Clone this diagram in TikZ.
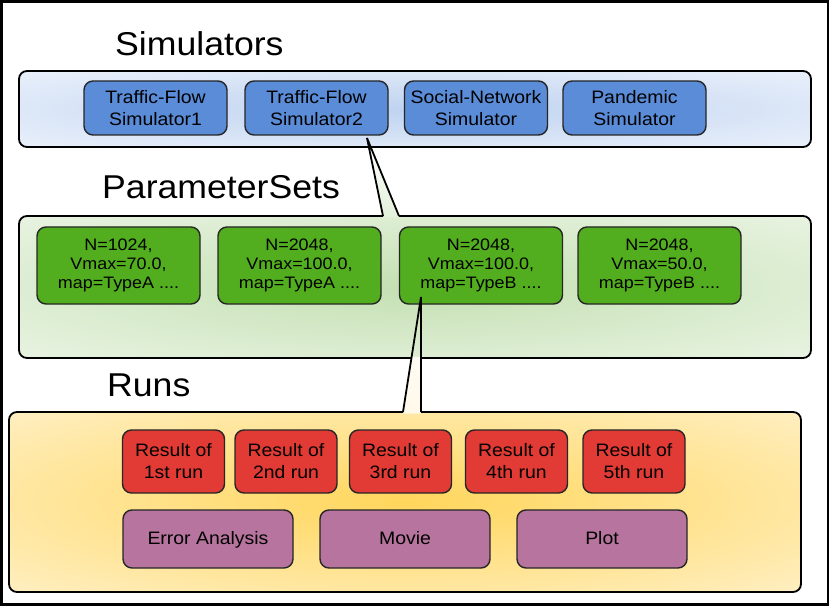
\documentclass[tikz,border=0pt]{standalone}
\usepackage{fontspec}
\setmainfont{Liberation Sans}[FakeStretch=1.08]
\usetikzlibrary{calc}
\definecolor{simblue}{RGB}{90,140,216}
\definecolor{pargreen}{RGB}{82,174,31}
\definecolor{resred}{RGB}{226,59,53}
\definecolor{outpurple}{RGB}{182,116,158}
\definecolor{simin}{RGB}{190,210,240}
\definecolor{simout}{RGB}{252,253,255}
\definecolor{parin}{RGB}{196,224,178}
\definecolor{parout}{RGB}{247,251,245}
\definecolor{runin}{RGB}{255,214,92}
\definecolor{runout}{RGB}{255,249,234}
\pgfdeclareradialshading{simshade}{\pgfpointorigin}{color(0bp)=(simin); color(50bp)=(simout); color(75bp)=(simout)}
\pgfdeclareradialshading{parshade}{\pgfpointorigin}{color(0bp)=(parin); color(50bp)=(parout); color(75bp)=(parout)}
\pgfdeclareradialshading{runshade}{\pgfpointorigin}{color(0bp)=(runin); color(50bp)=(runout); color(75bp)=(runout)}
\begin{document}
\begin{tikzpicture}[x=1pt,y=-1pt,
  cont/.style={line width=1.8pt, line join=miter},
  inbox/.style={draw=black!85, line width=1.4pt, rounded corners=9pt, inner sep=0pt, align=center, text=black},
  simbox/.style={inbox, fill=simblue, minimum width=143pt, minimum height=54pt, font=\fontsize{18}{22}\selectfont},
  parbox/.style={inbox, fill=pargreen, minimum width=163pt, minimum height=77pt, font=\fontsize{16.6}{19.4}\selectfont},
  resbox/.style={inbox, fill=resred, minimum width=102pt, minimum height=63pt, font=\fontsize{18}{22}\selectfont},
  outbox/.style={inbox, fill=outpurple, minimum width=170pt, minimum height=58pt, text height=14pt, text depth=3pt, font=\fontsize{18}{22}\selectfont},
  title/.style={anchor=base west, inner sep=0pt, font=\fontsize{33}{38}\selectfont}]
\useasboundingbox (0,0) rectangle (831,607);
\fill[white] (0,0) rectangle (831,607);
\draw[line width=2.6pt] (1.5,1.5) rectangle (828,604.5);

% Simulators container
\node[title] (tsim) at (115,56) {Simulators};
\shade[shading=simshade, rounded corners=8pt] (19,71) rectangle (811,147);
\draw[cont, rounded corners=8pt] (19,71) rectangle (811,147);

% ParameterSets container with callout
\coordinate (ptip) at (367,138);
\coordinate (pb1) at (383,216);
\coordinate (pb2) at (399,216);
\node[title] (tpar) at (102,199) {ParameterSets};
\shade[shading=parshade, rounded corners=8pt] (19,216) rectangle (811,358);
\shade[top color=white, bottom color=parout!60!parin] (ptip) -- ($(pb1)+(0,1.5)$) -- ($(pb2)+(0,1.5)$) -- cycle;
\draw[cont, rounded corners=8pt] (pb2) -- (811,216) -- (811,358) -- (19,358) -- (19,216) -- (pb1);

% Runs container with callout
\coordinate (rtip) at (421,297);
\coordinate (rb1) at (403,412);
\coordinate (rb2) at (421,412);
\node[title] (trun) at (107,396) {Runs};
\shade[shading=runshade, rounded corners=8pt] (9,412) rectangle (801,592);
\shade[top color=runout!60!white, bottom color=runout] ($(rtip)!0.52!(rb1)+(-0.5,0)$) -- ($(rb1)+(0,1.5)$) -- ($(rb2)+(0,1.5)$) -- ($(rtip)!0.52!(rb2)$) -- cycle;
\draw[cont, rounded corners=8pt] (rb2) -- (801,412) -- (801,592) -- (9,592) -- (9,412) -- (rb1);

% Simulators
\node[simbox] (s1) at (155.5,108) {Traffic-Flow\\Simulator1};
\node[simbox] (s2) at (316.5,108) {Traffic-Flow\\Simulator2};
\node[simbox] (s3) at (476,108) {Social-Network\\Simulator};
\node[simbox] (s4) at (634.5,108) {Pandemic\\Simulator};

% Parameter sets
\node[parbox] (p1) at (118.5,265.5) {N=1024,\\Vmax=70.0,\\map=TypeA ....};
\node[parbox] (p2) at (299.5,265.5) {N=2048,\\Vmax=100.0,\\map=TypeA ....};
\node[parbox] (p3) at (481,265.5) {N=2048,\\Vmax=100.0,\\map=TypeB ....};
\node[parbox] (p4) at (659.5,265.5) {N=2048,\\Vmax=50.0,\\map=TypeB ....};

% Results
\node[resbox] (r1) at (173.5,461.5) {Result of\\1st run};
\node[resbox] (r2) at (286,461.5) {Result of\\2nd run};
\node[resbox] (r3) at (400.5,461.5) {Result of\\3rd run};
\node[resbox] (r4) at (516.5,461.5) {Result of\\4th run};
\node[resbox] (r5) at (634,461.5) {Result of\\5th run};

% Outputs
\node[outbox] (o1) at (208,539) {Error Analysis};
\node[outbox] (o2) at (405,539) {Movie};
\node[outbox] (o3) at (602,539) {Plot};

% callout lines on top
\draw[cont] (pb1) -- (ptip) -- (pb2);
\draw[cont] (rb1) -- (rtip) -- (rb2);
\end{tikzpicture}
\end{document}
